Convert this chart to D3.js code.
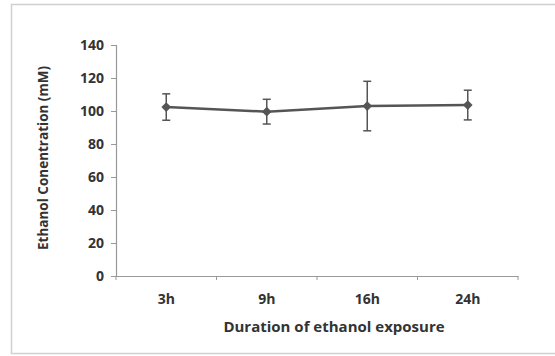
<!DOCTYPE html>
<html>
<head>
<meta charset="utf-8">
<script src="https://cdn.jsdelivr.net/npm/d3@7"></script>
<style>
  body { margin: 0; background: #fff; }
  svg text { font-family: 'Open Sans', 'Liberation Sans', sans-serif; font-weight: bold; fill: #333; }
</style>
</head>
<body>
<div id="chart"></div>
<script>
const categories = ['3h', '9h', '16h', '24h']
const means = [102.4, 99.6, 103, 103.6]
const errors = [8, 7.5, 15, 9]
const yTicks = [0, 20, 40, 60, 80, 100, 120, 140]

const W = 555, H = 356
const margin = { top: 45, left: 116, right: 37, bottom: 80 }
const width = W - margin.left - margin.right
const height = H - margin.top - margin.bottom

const svg = d3.select('#chart').append('svg')
  .attr('width', W)
  .attr('height', H)

// outer frame
svg.append('rect')
  .attr('x', 11.5).attr('y', 4.5)
  .attr('width', 560).attr('height', 349)
  .attr('fill', 'none')
  .attr('stroke', '#d0d0d0')
  .attr('stroke-width', 1.5)

const g = svg.append('g')
  .attr('transform', 'translate(' + margin.left + ',' + margin.top + ')')

const x = d3.scaleBand().domain(categories).range([0, width])
const y = d3.scaleLinear().domain([0, 140]).range([height, 0])

const yAxis = g.append('g')
  .call(d3.axisLeft(y).tickValues(yTicks).tickSize(5).tickPadding(7))
const xAxis = g.append('g')
  .attr('transform', 'translate(0,' + height + ')')
  .call(d3.axisBottom(x).tickSize(0).tickPadding(18))

// x ticks on band edges
xAxis.selectAll('.edge')
  .data(d3.range(categories.length + 1))
  .enter().append('line')
  .attr('class', 'edge')
  .attr('x1', i => i * x.bandwidth())
  .attr('x2', i => i * x.bandwidth())
  .attr('y1', 0).attr('y2', 4)
  .attr('stroke', '#999')

svg.selectAll('.domain').attr('stroke', '#999').attr('stroke-width', 1.2)
yAxis.selectAll('.tick line').attr('stroke', '#999')
yAxis.attr('font-size', 14)
xAxis.attr('font-size', 14)
svg.selectAll('.tick text').attr('fill', '#333')

const cx = d => x(d) + x.bandwidth() / 2

// error bars
const eb = g.selectAll('.err')
  .data(categories)
  .enter().append('g')
  .attr('class', 'err')
  .attr('stroke', '#555')
  .attr('stroke-width', 1.5)
eb.append('line')
  .attr('x1', d => cx(d)).attr('x2', d => cx(d))
  .attr('y1', (d, i) => y(means[i] + errors[i]))
  .attr('y2', (d, i) => y(means[i] - errors[i]))
eb.append('line')
  .attr('x1', d => cx(d) - 4).attr('x2', d => cx(d) + 4)
  .attr('y1', (d, i) => y(means[i] + errors[i]))
  .attr('y2', (d, i) => y(means[i] + errors[i]))
eb.append('line')
  .attr('x1', d => cx(d) - 4).attr('x2', d => cx(d) + 4)
  .attr('y1', (d, i) => y(means[i] - errors[i]))
  .attr('y2', (d, i) => y(means[i] - errors[i]))

// line
const line = d3.line()
  .x(d => cx(d))
  .y((d, i) => y(means[i]))
g.append('path')
  .datum(categories)
  .attr('d', line)
  .attr('fill', 'none')
  .attr('stroke', '#555')
  .attr('stroke-width', 2.5)

// diamond markers
g.selectAll('.pt')
  .data(categories)
  .enter().append('path')
  .attr('class', 'pt')
  .attr('d', d3.symbol().type(d3.symbolDiamond2).size(60))
  .attr('transform', (d, i) => 'translate(' + cx(d) + ',' + y(means[i]) + ')')
  .attr('fill', '#555')

// axis titles
svg.append('text')
  .attr('x', 334)
  .attr('y', 332)
  .attr('text-anchor', 'middle')
  .style('font-size', '15px')
  .text('Duration of ethanol exposure')

svg.append('text')
  .attr('transform', 'translate(48,158) rotate(-90)')
  .attr('text-anchor', 'middle')
  .style('font-size', '13.5px')
  .text('Ethanol Conentration (mM)')
</script>
</body>
</html>
